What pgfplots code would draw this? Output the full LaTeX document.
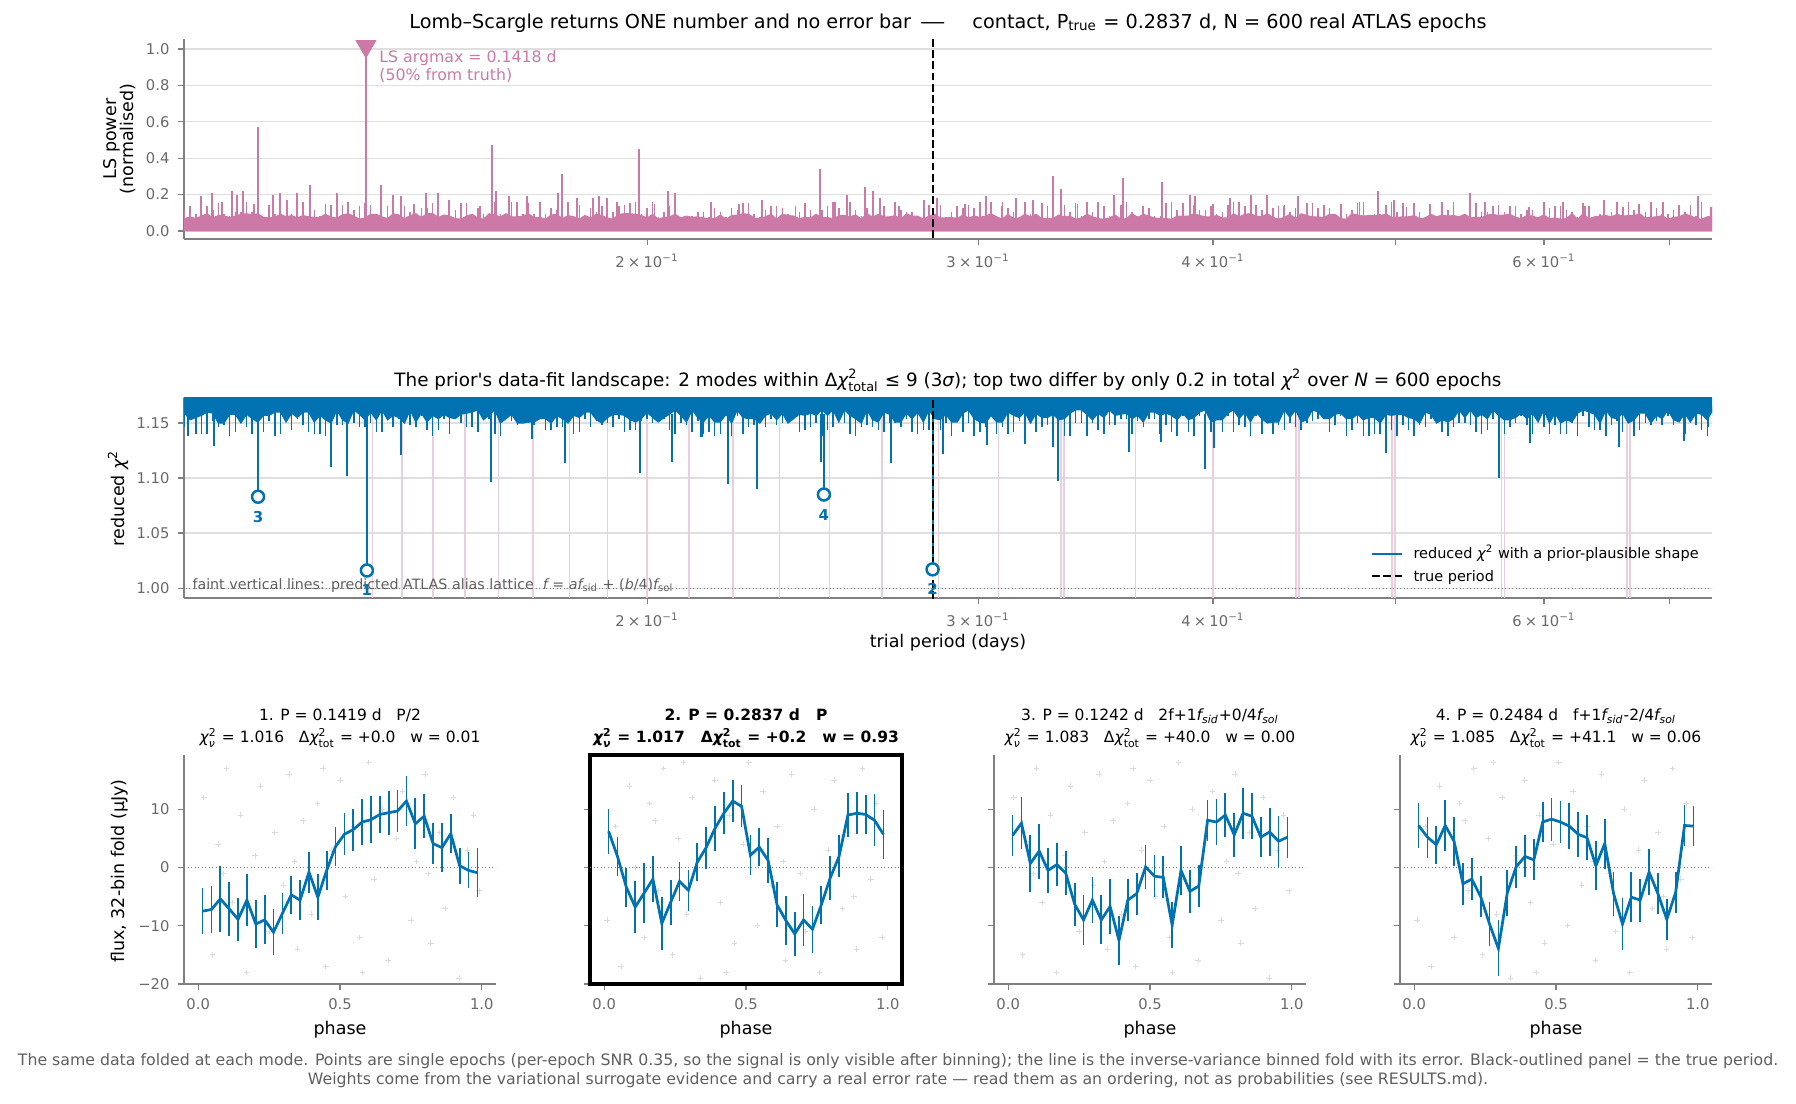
\documentclass[border=0pt]{standalone}
\usepackage{pgfplots}
\usepackage{pgfplotstable}
\pgfplotsset{compat=1.18}
\usepackage{graphicx}
\usepackage{amsmath}
\usepackage{fontspec}
\setmainfont{DejaVu Sans}

\definecolor{lspink}{RGB}{204,121,167}
\definecolor{chiblue}{RGB}{0,114,178}
\definecolor{latpink}{RGB}{236,205,222}
\definecolor{spinegray}{RGB}{128,128,128}
\definecolor{tickgray}{RGB}{105,105,105}
\definecolor{gridgray}{RGB}{223,223,223}
\definecolor{ptgray}{RGB}{218,218,218}
\definecolor{capgray}{RGB}{95,95,95}

\newcommand{\X}{{\itshape χ}}
\newcommand{\ftitle}{\fontsize{7.7pt}{9pt}\selectfont}
\newcommand{\ftitleb}{\fontsize{7.35pt}{9pt}\selectfont}
\newcommand{\flabel}{\fontsize{7pt}{6.9pt}\selectfont}
\newcommand{\fptitle}{\fontsize{6.2pt}{7.4pt}\selectfont}
\newcommand{\ftick}{\fontsize{5.9pt}{7pt}\selectfont}
\newcommand{\fleg}{\fontsize{5.8pt}{7pt}\selectfont}
\newcommand{\fann}{\fontsize{6.3pt}{7.3pt}\selectfont}
\newcommand{\fcap}{\fontsize{6.3pt}{7.5pt}\selectfont}
\newcommand{\fnote}{\fontsize{5.7pt}{6.8pt}\selectfont}
\newcommand{\fnum}{\fontsize{6pt}{7pt}\selectfont\bfseries}
\newcommand{\tenm}[1]{#1\hspace{0.22em}×\hspace{0.22em}10$^{\text{−1}}$}
\tikzset{truedash/.style={black, line width=0.85pt, dash pattern=on 3.1pt off 1.4pt}}

% lp = log10(trial period / d); ls = LS power floor; sp = LS power local peaks;
% chi = reduced chi^2 upper envelope; dp = reduced chi^2 local minima
\pgfplotstableread{
lp ls sp chi dp
-0.947 0 0 1.2 1.2
-0.945 .068 .115 1.159 1.146
-0.942 .078 .105 1.153 1.154
-0.939 .068 .095 1.155 1.140
-0.936 .082 .135 1.157 1.140
-0.933 .095 .135 1.160 1.140
-0.930 .072 .115 1.159 1.152
-0.927 .085 .155 1.150 1.146
-0.924 .082 .095 1.150 1.148
-0.921 .075 .085 1.158 1.138
-0.918 .082 .105 1.158 1.142
-0.915 .092 .105 1.150 1.154
-0.912 .095 .160 1.158 1.146
-0.909 .088 .105 1.154 1.140
-0.906 .095 .135 1.151 1.138
-0.903 .075 .075 1.157 1.142
-0.900 .072 .145 1.157 1.152
-0.897 .075 .095 1.160 1.138
-0.894 .092 .135 1.160 1.140
-0.891 .078 .075 1.151 1.156
-0.888 .085 .095 1.159 1.144
-0.885 .072 .115 1.155 1.154
-0.882 .085 .160 1.160 1.148
-0.879 .078 .085 1.160 1.142
-0.876 .075 .115 1.151 1.140
-0.873 .075 .085 1.157 1.140
-0.870 .092 .095 1.153 1.138
-0.867 .075 .145 1.150 1.148
-0.864 .072 .105 1.162 1.148
-0.861 .088 .145 1.153 1.148
-0.858 .095 .095 1.150 1.156
-0.855 .082 .115 1.162 1.150
-0.852 .065 .125 1.158 1.146
-0.849 .072 .155 1.153 1.146
-0.846 .092 .145 1.160 1.150
-0.843 .092 .075 1.153 1.142
-0.840 .078 .075 1.162 1.142
-0.837 .068 .135 1.153 1.156
-0.834 .095 .135 1.157 1.146
-0.831 .088 .075 1.155 1.154
-0.828 .068 .135 1.150 1.156
-0.825 .085 .105 1.162 1.148
-0.822 .095 .085 1.151 1.146
-0.819 .075 .125 1.159 1.156
-0.816 .095 .125 1.151 1.144
-0.813 .095 .155 1.157 1.138
-0.810 .075 .155 1.154 1.144
-0.807 .088 .085 1.158 1.154
-0.804 .082 .145 1.155 1.140
-0.801 .068 .115 1.154 1.156
-0.798 .065 .155 1.158 1.150
-0.795 .082 .155 1.159 1.146
-0.792 .092 .085 1.160 1.146
-0.789 .072 .125 1.162 1.142
-0.786 .065 .095 1.153 1.154
-0.783 .095 .075 1.157 1.154
-0.780 .088 .160 1.162 1.140
-0.777 .078 .095 1.150 1.138
-0.774 .095 .075 1.154 1.156
-0.771 .078 .160 1.158 1.152
-0.768 .078 .135 1.150 1.148
-0.765 .082 .095 1.150 1.150
-0.762 .095 .155 1.151 1.150
-0.759 .072 .095 1.151 1.148
-0.756 .075 .160 1.154 1.156
-0.753 .065 .095 1.154 1.144
-0.750 .088 .125 1.150 1.144
-0.747 .092 .115 1.157 1.146
-0.744 .068 .075 1.154 1.146
-0.741 .085 .160 1.150 1.150
-0.738 .078 .085 1.157 1.140
-0.735 .065 .145 1.155 1.142
-0.732 .085 .085 1.160 1.154
-0.729 .072 .125 1.160 1.146
-0.726 .092 .105 1.153 1.152
-0.723 .085 .135 1.150 1.148
-0.720 .072 .115 1.155 1.150
-0.717 .065 .105 1.158 1.146
-0.714 .092 .135 1.158 1.154
-0.711 .095 .145 1.157 1.142
-0.708 .095 .155 1.153 1.144
-0.705 .092 .160 1.151 1.144
-0.702 .085 .095 1.154 1.152
-0.699 .072 .125 1.160 1.154
-0.696 .092 .160 1.155 1.150
-0.693 .065 .075 1.151 1.152
-0.690 .075 .105 1.155 1.154
-0.687 .078 .135 1.158 1.144
-0.684 .092 .075 1.162 1.140
-0.681 .072 .075 1.157 1.150
-0.678 .082 .085 1.151 1.148
-0.675 .075 .085 1.162 1.142
-0.672 .078 .105 1.155 1.152
-0.669 .072 .105 1.151 1.140
-0.666 .068 .075 1.157 1.142
-0.663 .068 .125 1.151 1.138
-0.660 .088 .105 1.151 1.140
-0.657 .065 .075 1.158 1.156
-0.654 .085 .125 1.150 1.138
-0.651 .088 .115 1.162 1.156
-0.648 .095 .155 1.155 1.140
-0.645 .092 .155 1.154 1.146
-0.642 .072 .095 1.154 1.148
-0.639 .068 .075 1.150 1.150
-0.636 .078 .115 1.157 1.146
-0.633 .092 .135 1.159 1.154
-0.630 .065 .135 1.153 1.148
-0.627 .092 .125 1.159 1.150
-0.624 .085 .095 1.150 1.150
-0.621 .082 .085 1.154 1.156
-0.618 .068 .105 1.158 1.142
-0.615 .075 .155 1.157 1.144
-0.612 .072 .115 1.159 1.146
-0.609 .092 .085 1.157 1.150
-0.606 .072 .115 1.162 1.138
-0.603 .075 .135 1.157 1.144
-0.600 .065 .160 1.162 1.146
-0.597 .085 .125 1.151 1.154
-0.594 .085 .085 1.162 1.150
-0.591 .078 .160 1.157 1.140
-0.588 .088 .115 1.154 1.138
-0.585 .065 .085 1.150 1.146
-0.582 .095 .125 1.162 1.148
-0.579 .075 .085 1.153 1.146
-0.576 .092 .085 1.151 1.144
-0.573 .078 .135 1.160 1.142
-0.570 .078 .075 1.158 1.150
-0.567 .085 .160 1.151 1.150
-0.564 .065 .115 1.151 1.146
-0.561 .095 .105 1.159 1.154
-0.558 .082 .105 1.154 1.142
-0.555 .082 .075 1.160 1.140
-0.552 .065 .125 1.151 1.144
-0.549 .082 .145 1.162 1.144
-0.546 .092 .095 1.154 1.156
-0.543 .072 .145 1.153 1.144
-0.540 .072 .075 1.158 1.150
-0.537 .075 .105 1.151 1.138
-0.534 .068 .135 1.151 1.152
-0.531 .088 .125 1.159 1.142
-0.528 .072 .145 1.162 1.150
-0.525 .082 .125 1.154 1.138
-0.522 .075 .160 1.151 1.142
-0.519 .082 .125 1.150 1.146
-0.516 .095 .160 1.157 1.156
-0.513 .078 .085 1.151 1.140
-0.510 .065 .160 1.151 1.146
-0.507 .092 .125 1.160 1.140
-0.504 .068 .105 1.157 1.142
-0.501 .072 .075 1.155 1.152
-0.498 .092 .160 1.160 1.144
-0.495 .078 .095 1.150 1.152
-0.492 .092 .085 1.159 1.142
-0.489 .068 .155 1.155 1.146
-0.486 .068 .135 1.155 1.148
-0.483 .068 .085 1.158 1.154
-0.480 .088 .085 1.153 1.152
-0.477 .078 .145 1.154 1.138
-0.474 .082 .105 1.159 1.138
-0.471 .065 .155 1.162 1.150
-0.468 .072 .085 1.162 1.150
-0.465 .092 .160 1.158 1.138
-0.462 .078 .105 1.153 1.150
-0.459 .068 .095 1.159 1.144
-0.456 .065 .135 1.155 1.140
-0.453 .072 .085 1.162 1.148
-0.450 .088 .085 1.157 1.148
-0.447 .065 .145 1.158 1.154
-0.444 .068 .160 1.159 1.154
-0.441 .095 .105 1.154 1.140
-0.438 .075 .085 1.157 1.152
-0.435 .092 .075 1.151 1.146
-0.432 .082 .125 1.160 1.154
-0.429 .072 .085 1.160 1.154
-0.426 .068 .085 1.157 1.140
-0.423 .068 .155 1.159 1.148
-0.420 .065 .125 1.157 1.142
-0.417 .082 .115 1.153 1.138
-0.414 .082 .155 1.159 1.156
-0.411 .082 .075 1.153 1.142
-0.408 .095 .145 1.155 1.138
-0.405 .085 .115 1.160 1.156
-0.402 .078 .115 1.162 1.150
-0.399 .078 .135 1.151 1.142
-0.396 .085 .095 1.153 1.154
-0.393 .072 .105 1.153 1.142
-0.390 .072 .145 1.159 1.156
-0.387 .095 .160 1.162 1.142
-0.384 .078 .160 1.154 1.148
-0.381 .092 .135 1.160 1.146
-0.378 .095 .095 1.151 1.138
-0.375 .082 .145 1.160 1.156
-0.372 .078 .115 1.154 1.140
-0.369 .095 .160 1.150 1.152
-0.366 .075 .125 1.151 1.140
-0.363 .065 .135 1.151 1.148
-0.360 .075 .145 1.162 1.144
-0.357 .092 .105 1.155 1.150
-0.354 .068 .125 1.162 1.146
-0.351 .095 .085 1.151 1.144
-0.348 .085 .155 1.153 1.150
-0.345 .078 .155 1.162 1.152
-0.342 .078 .125 1.160 1.154
-0.339 .072 .145 1.154 1.156
-0.336 .092 .125 1.154 1.142
-0.333 .092 .095 1.158 1.148
-0.330 .068 .145 1.159 1.156
-0.327 .065 .095 1.154 1.138
-0.324 .095 .115 1.154 1.144
-0.321 .088 .155 1.158 1.150
-0.318 .082 .160 1.153 1.138
-0.315 .085 .085 1.155 1.138
-0.312 .085 .095 1.155 1.140
-0.309 .082 .095 1.150 1.140
-0.306 .095 .145 1.158 1.144
-0.303 .075 .160 1.157 1.144
-0.300 .075 .105 1.158 1.138
-0.297 .078 .155 1.158 1.148
-0.294 .078 .085 1.155 1.144
-0.291 .085 .155 1.154 1.138
-0.288 .068 .105 1.150 1.148
-0.285 .072 .075 1.160 1.146
-0.282 .092 .085 1.158 1.154
-0.279 .078 .085 1.150 1.154
-0.276 .088 .160 1.153 1.142
-0.273 .082 .115 1.151 1.138
-0.270 .085 .160 1.154 1.146
-0.267 .078 .085 1.162 1.150
-0.264 .092 .095 1.155 1.150
-0.261 .072 .160 1.162 1.148
-0.258 .075 .155 1.155 1.142
-0.255 .075 .105 1.158 1.140
-0.252 .088 .105 1.154 1.144
-0.249 .092 .135 1.162 1.154
-0.246 .085 .145 1.157 1.146
-0.243 .088 .105 1.153 1.140
-0.240 .092 .105 1.153 1.146
-0.237 .075 .135 1.155 1.150
-0.234 .068 .095 1.159 1.156
-0.231 .085 .115 1.154 1.148
-0.228 .082 .115 1.159 1.140
-0.225 .072 .075 1.151 1.156
-0.222 .088 .135 1.162 1.146
-0.219 .068 .125 1.150 1.140
-0.216 .072 .135 1.159 1.148
-0.213 .065 .135 1.150 1.140
-0.210 .068 .115 1.153 1.140
-0.207 .095 .105 1.151 1.150
-0.204 .065 .075 1.159 1.138
-0.201 .095 .155 1.162 1.156
-0.198 .068 .135 1.160 1.146
-0.195 .078 .075 1.158 1.144
-0.192 .082 .095 1.150 1.144
-0.189 .085 .085 1.162 1.138
-0.186 .078 .105 1.155 1.148
-0.183 .092 .160 1.154 1.152
-0.180 .082 .115 1.159 1.142
-0.177 .085 .160 1.150 1.152
-0.174 .085 .115 1.153 1.138
-0.171 .095 .135 1.159 1.144
-0.168 .072 .105 1.159 1.150
-0.165 .075 .160 1.150 1.148
-0.162 .078 .125 1.157 1.152
-0.159 .085 .095 1.154 1.148
-0.156 .065 .095 1.162 1.156
-0.153 .075 .115 1.153 1.148
-0.150 .078 .145 1.151 1.156
-0.147 .092 .105 1.159 1.140
-0.144 .085 .145 1.151 1.156
-0.141 .068 .085 1.159 1.148
-0.138 .065 .160 1.158 1.144
-0.135 .078 .075 1.153 1.138
-0.132 .082 .145 1.162 1.156
-0.130 0 0 1.2 1.2
}\lsdata

\pgfplotstableread{
ph f e
0.015625 -7.5 3.9
0.046875 -7.2 4.1
0.078125 -5.4 5.6
0.109375 -7.1 4.6
0.140625 -8.9 3.7
0.171875 -5.6 4.5
0.203125 -9.7 4.2
0.234375 -9.0 4.2
0.265625 -11.1 3.9
0.296875 -7.9 3.5
0.328125 -4.7 3.2
0.359375 -5.6 3.5
0.390625 -0.8 3.5
0.421875 -5.1 3.9
0.453125 -0.5 3.4
0.484375 3.6 3.4
0.515625 5.7 3.6
0.546875 6.5 3.6
0.578125 7.8 4.0
0.609375 8.2 4.0
0.640625 9.1 3.2
0.671875 9.4 3.8
0.703125 9.7 3.6
0.734375 11.4 4.3
0.765625 7.5 4.4
0.796875 8.8 3.8
0.828125 4.1 3.5
0.859375 3.4 4.2
0.890625 5.8 3.4
0.921875 0.3 3.1
0.953125 -0.5 3.1
0.984375 -0.9 4.2
}\foldA

\pgfplotstableread{
ph f e
0.015625 6.2 3.9
0.046875 1.9 3.3
0.078125 -3.4 3.3
0.109375 -6.8 4.4
0.140625 -4.4 5.2
0.171875 -2.0 4.0
0.203125 -9.6 4.5
0.234375 -6.0 3.9
0.265625 -2.4 3.4
0.296875 -3.9 3.5
0.328125 0.9 3.3
0.359375 3.4 3.6
0.390625 6.7 3.9
0.421875 9.3 3.6
0.453125 11.4 3.6
0.484375 10.5 3.6
0.515625 2.1 3.4
0.546875 3.5 3.2
0.578125 1.2 3.8
0.609375 -6.4 3.9
0.640625 -9.1 4.2
0.671875 -11.4 3.8
0.703125 -9.0 4.5
0.734375 -10.6 4.0
0.765625 -6.4 3.3
0.796875 -1.8 3.7
0.828125 1.9 3.6
0.859375 9.0 3.8
0.890625 9.3 3.6
0.921875 9.1 3.4
0.953125 8.1 4.5
0.984375 5.7 4.2
}\foldB

\pgfplotstableread{
ph f e
0.015625 5.5 3.5
0.046875 7.6 4.5
0.078125 0.7 4.9
0.109375 2.8 4.7
0.140625 -0.5 3.9
0.171875 0.5 3.7
0.203125 -1.0 3.8
0.234375 -6.3 3.7
0.265625 -9.0 4.3
0.296875 -5.6 3.9
0.328125 -9.0 4.2
0.359375 -6.7 4.7
0.390625 -12.5 4.2
0.421875 -5.6 3.6
0.453125 -4.5 3.6
0.484375 0.1 3.8
0.515625 -1.5 3.6
0.546875 -1.7 3.6
0.578125 -9.9 4.0
0.609375 -0.5 4.2
0.640625 -4.1 3.7
0.671875 -3.2 3.6
0.703125 8.1 3.5
0.734375 7.8 3.9
0.765625 9.0 3.8
0.796875 5.6 3.8
0.828125 9.3 4.4
0.859375 8.8 4.0
0.890625 5.2 3.4
0.921875 6.1 4.1
0.953125 4.5 4.4
0.984375 5.2 3.5
}\foldC

\pgfplotstableread{
ph f e
0.015625 7.2 3.8
0.046875 5.2 3.5
0.078125 3.9 3.3
0.109375 7.2 4.3
0.140625 4.5 4.2
0.171875 -2.8 3.6
0.203125 -2.0 3.6
0.234375 -5.0 3.5
0.265625 -9.7 3.7
0.296875 -13.9 4.8
0.328125 -4.4 4.0
0.359375 0.1 3.6
0.390625 1.9 3.6
0.421875 1.3 3.5
0.453125 7.8 3.5
0.484375 8.3 3.7
0.515625 7.8 3.6
0.546875 7.1 3.9
0.578125 5.7 3.9
0.609375 5.1 3.9
0.640625 0.3 4.2
0.671875 4.1 4.3
0.703125 -4.5 3.8
0.734375 -9.7 4.5
0.765625 -5.1 4.3
0.796875 -5.6 3.7
0.828125 -0.8 4.0
0.859375 -4.5 3.5
0.890625 -8.9 3.5
0.921875 -4.3 3.5
0.953125 7.2 3.6
0.984375 7.1 3.4
}\foldD

\pgfplotsset{
  base/.style={
    scale only axis, clip mode=individual,
    axis x line*=bottom, axis y line*=left,
    axis line style={-, spinegray, line width=0.8pt},
    tick align=outside,
    major tick length=2.3pt, minor tick length=2.3pt,
    every tick/.style={spinegray, line width=0.45pt},
    tick label style={font=\ftick, text=tickgray},
    /pgf/number format/assume math mode=true,
    major grid style={gridgray, line width=0.45pt},
  },
  logp/.style={
    width=611.2pt, height=80pt,
    xmin=-0.9453, xmax=-0.1325,
    xtick={-0.69897,-0.52288,-0.39794,-0.22185},
    xticklabels={\tenm{2},\tenm{3},\tenm{4},\tenm{6}},
    minor xtick={-0.30103,-0.15490},
    ymajorgrids,
  },
  fold/.style={
    base, width=124.8pt, height=91.6pt,
    xmin=-0.05, xmax=1.05, ymin=-20, ymax=19.3,
    xtick={0,0.5,1}, xticklabels={0.0,0.5,1.0},
    ytick={-20,-10,0,10}, yticklabels={},
  },
  foldline/.style={chiblue, line width=1.1pt, error bars/.cd, y dir=both, y explicit,
    error mark=none, error bar style={line width=0.7pt, chiblue}},
  epochs/.style={only marks, mark=+, mark size=1.1pt, draw=ptgray, mark options={line width=0.3pt}},
  zeroline/.style={spinegray, line width=0.45pt, dash pattern=on 0.5pt off 0.9pt},
}

\begin{document}
\begin{tikzpicture}
\useasboundingbox (0pt,0pt) rectangle (718.4pt,-441.6pt);

% ---------------- top: Lomb-Scargle ----------------
\begin{axis}[base, logp, at={(73.6pt,-95.6pt)}, anchor=south west,
  ymin=-0.044, ymax=1.055,
  ytick={0,0.2,0.4,0.6,0.8,1.0}, yticklabels={0.0,0.2,0.4,0.6,0.8,1.0}]
\addplot[draw=lspink, fill=lspink, line width=0.4pt] table[x=lp, y=ls] {\lsdata} \closedcycle;
\addplot[ycomb, draw=lspink, line width=0.6pt] table[x=lp, y=sp] {\lsdata};
\addplot[ycomb, draw=lspink, line width=0.7pt] coordinates {
(-0.9420,.14)(-0.9362,.19)(-0.9304,.21)(-0.9250,.16)(-0.9197,.22)(-0.9171,.20)(-0.9139,.22)(-0.9080,.15)
(-0.9059,.57)(-0.8979,.20)(-0.8942,.21)(-0.8905,.17)(-0.8852,.21)(-0.8783,.25)(-0.8700,.15)(-0.8639,.21)
(-0.8580,.16)(-0.8520,.14)(-0.8405,.25)(-0.8341,.20)(-0.8299,.19)(-0.8230,.15)(-0.8166,.21)(-0.8102,.21)
(-0.8043,.17)(-0.7950,.15)(-0.7880,.14)(-0.7814,.47)(-0.7793,.22)(-0.7724,.19)(-0.7680,.16)(-0.7628,.19)
(-0.7560,.15)(-0.7463,.21)(-0.7442,.315)(-0.7362,.18)(-0.7277,.18)(-0.7245,.19)(-0.7203,.18)(-0.7150,.16)
(-0.7080,.14)(-0.7033,.45)(-0.6950,.15)(-0.6878,.22)(-0.6841,.21)
(-0.6650,.16)(-0.6500,.15)(-0.6380,.17)(-0.6200,.14)(-0.6070,.34)(-0.5990,.16)(-0.5926,.20)(-0.5830,.24)
(-0.5788,.22)(-0.5751,.18)(-0.5650,.14)(-0.5517,.17)(-0.5447,.18)(-0.5300,.15)(-0.5187,.19)(-0.5100,.14)
(-0.5027,.18)(-0.4937,.17)(-0.4830,.30)(-0.4788,.23)(-0.4700,.15)(-0.4590,.16)(-0.4506,.20)(-0.4458,.29)
(-0.4350,.14)(-0.4251,.27)(-0.4200,.16)(-0.4102,.20)(-0.4075,.19)(-0.3980,.15)(-0.3889,.18)(-0.3777,.20)
(-0.3692,.20)(-0.3600,.14)(-0.3527,.19)(-0.3300,.15)(-0.3200,.16)(-0.3102,.22)(-0.3017,.17)(-0.2950,.13)
(-0.2825,.15)(-0.2700,.14)(-0.2612,.21)(-0.2533,.16)(-0.2400,.14)(-0.2300,.13)(-0.2219,.16)(-0.2118,.16)
(-0.2000,.14)(-0.1900,.17)(-0.1800,.13)(-0.1714,.15)(-0.1586,.16)(-0.1500,.14)(-0.1400,.19)(-0.1330,.13)};
\addplot[ycomb, draw=lspink, line width=1.1pt] coordinates {(-0.8485,1.0)};
\addplot[truedash] coordinates {(-0.5471,-0.1)(-0.5471,1.2)};
\addplot[only marks, mark=triangle*, mark size=4.5pt, mark options={rotate=180, fill=lspink, draw=lspink}] coordinates {(-0.8485,1.015)};
\node[anchor=north west, align=left, inner sep=0pt, text=lspink, font=\fann] at (axis cs:-0.8416,0.997) {LS argmax = 0.1418 d\\(50\% from truth)};
\end{axis}

% ---------------- middle: chi^2 landscape ----------------
\begin{axis}[base, logp, at={(73.6pt,-239.2pt)}, anchor=south west,
  ymin=0.991, ymax=1.1727,
  ytick={1.00,1.05,1.10,1.15}, yticklabels={1.00,1.05,1.10,1.15}]
\addplot[ycomb, draw=latpink, line width=0.55pt] coordinates {
(-0.84510,1.3)(-0.82930,1.3)(-0.81291,1.3)(-0.79588,1.3)(-0.77815,1.3)(-0.75967,1.3)(-0.74036,1.3)(-0.72016,1.3)
(-0.69897,1.3)(-0.67669,1.3)(-0.65321,1.3)(-0.62839,1.3)(-0.60206,1.3)(-0.57403,1.3)(-0.54407,1.3)(-0.51188,1.3)
(-0.47712,1.3)(-0.47872,1.3)(-0.43933,1.3)(-0.39794,1.3)(-0.35218,1.3)(-0.35378,1.3)(-0.30103,1.3)(-0.30263,1.3)
(-0.24304,1.3)(-0.24464,1.3)(-0.17609,1.3)(-0.17769,1.3)};
\addplot[zeroline] coordinates {(-0.95,1.0)(-0.13,1.0)};
\addplot[draw=chiblue, fill=chiblue, line width=0.5pt] table[x=lp, y=chi] {\lsdata};
\addplot[draw=none, mark=none, error bars/.cd, y dir=plus, y explicit, error mark=none,
  error bar style={draw=chiblue, line width=0.6pt}] table[x=lp, y=dp, y error expr=1.165-\thisrow{dp}] {\lsdata};
\addplot[chiblue, line width=0.85pt, unbounded coords=jump] coordinates {
(-0.9430,1.158)(-0.9430,1.138)(-0.9430,nan)
(-0.9293,1.158)(-0.9293,1.129)(-0.9293,nan)
(-0.9059,1.158)(-0.9059,1.083)(-0.9059,nan)
(-0.8671,1.158)(-0.8671,1.110)(-0.8671,nan)
(-0.8586,1.158)(-0.8586,1.1015)(-0.8586,nan)
(-0.8480,1.158)(-0.8480,1.016)(-0.8480,nan)
(-0.8299,1.158)(-0.8299,1.121)(-0.8299,nan)
(-0.7820,1.158)(-0.7820,1.096)(-0.7820,nan)
(-0.7600,1.158)(-0.7600,1.135)(-0.7600,nan)
(-0.7426,1.158)(-0.7426,1.114)(-0.7426,nan)
(-0.7027,1.158)(-0.7027,1.105)(-0.7027,nan)
(-0.6857,1.158)(-0.6857,1.115)(-0.6857,nan)
(-0.6700,1.158)(-0.6700,1.137)(-0.6700,nan)
(-0.6559,1.158)(-0.6559,1.095)(-0.6559,nan)
(-0.6405,1.158)(-0.6405,1.090)(-0.6405,nan)
(-0.6064,1.158)(-0.6064,1.115)(-0.6064,nan)
(-0.6049,1.158)(-0.6049,1.085)(-0.6049,nan)
(-0.5692,1.158)(-0.5692,1.114)(-0.5692,nan)
(-0.5471,1.158)(-0.5471,1.017)(-0.5471,nan)
(-0.5416,1.158)(-0.5416,1.122)(-0.5416,nan)
(-0.5182,1.158)(-0.5182,1.130)(-0.5182,nan)
(-0.4979,1.158)(-0.4979,1.131)(-0.4979,nan)
(-0.4830,1.158)(-0.4830,1.128)(-0.4830,nan)
(-0.4804,1.158)(-0.4804,1.097)(-0.4804,nan)
(-0.4426,1.158)(-0.4426,1.124)(-0.4426,nan)
(-0.4256,1.158)(-0.4256,1.133)(-0.4256,nan)
(-0.4022,1.158)(-0.4022,1.108)(-0.4022,nan)
(-0.3974,1.158)(-0.3974,1.127)(-0.3974,nan)
(-0.3059,1.158)(-0.3059,1.123)(-0.3059,nan)
(-0.2458,1.158)(-0.2458,1.100)(-0.2458,nan)
(-0.2293,1.158)(-0.2293,1.132)(-0.2293,nan)
(-0.1820,1.158)(-0.1820,1.128)(-0.1820,nan)
(-0.1474,1.158)(-0.1474,1.134)(-0.1474,nan)
(-0.1346,1.158)(-0.1346,1.146)};
\addplot[truedash] coordinates {(-0.5471,0.98)(-0.5471,1.2)};
\addplot[only marks, mark=*, mark size=2.4pt, mark options={fill=white, draw=chiblue, line width=1pt}] coordinates {
(-0.8480,1.016)(-0.5471,1.017)(-0.9059,1.083)(-0.6049,1.085)};
\node[text=chiblue, font=\fnum, yshift=-8pt] at (axis cs:-0.8480,1.016) {1};
\node[text=chiblue, font=\fnum, yshift=-8pt] at (axis cs:-0.5471,1.017) {2};
\node[text=chiblue, font=\fnum, yshift=-8pt] at (axis cs:-0.9059,1.083) {3};
\node[text=chiblue, font=\fnum, yshift=-8pt] at (axis cs:-0.6049,1.085) {4};
\end{axis}

% ---------------- bottom: folds ----------------
\begin{axis}[fold, at={(73.6pt,-393.6pt)}, anchor=south west, yticklabels={−20,−10,0,10}]
\addplot[epochs] coordinates {(0.02,12)(0.05,-15)(0.07,4)(0.10,17)(0.12,-6)(0.15,9)(0.17,-18)(0.20,2)(0.22,14)(0.25,-11)(0.27,6)(0.30,-3)(0.32,16)(0.35,-14)(0.37,8)(0.40,-8)(0.42,11)(0.45,-17)(0.47,3)(0.50,15)(0.52,-5)(0.55,7)(0.57,-12)(0.60,18)(0.62,-2)(0.65,10)(0.67,-16)(0.70,5)(0.72,13)(0.75,-9)(0.77,1)(0.80,16)(0.82,-13)(0.85,6)(0.87,-7)(0.90,12)(0.92,-19)(0.95,3)(0.97,9)(0.99,-4)(0.09,-1)(0.34,1)(0.58,-18)(0.81,-1)(0.44,17)};
\addplot[zeroline] coordinates {(-0.05,0)(1.05,0)};
\addplot[foldline] table[x=ph, y=f, y error=e] {\foldA};
\end{axis}

\begin{axis}[fold, at={(236pt,-393.6pt)}, anchor=south west,
  axis x line=box, axis y line=box, tick pos=left,
  axis line style={-, black, line width=1.4pt}]
\addplot[epochs] coordinates {(0.01,-9)(0.04,7)(0.06,-17)(0.09,14)(0.11,0)(0.14,-12)(0.16,11)(0.19,-4)(0.21,17)(0.24,-15)(0.26,5)(0.29,-8)(0.31,12)(0.34,-19)(0.36,2)(0.39,15)(0.41,-6)(0.44,9)(0.46,-13)(0.49,4)(0.51,18)(0.54,-10)(0.56,13)(0.59,-3)(0.61,7)(0.64,-16)(0.66,16)(0.69,-1)(0.71,-11)(0.74,10)(0.76,-18)(0.79,3)(0.81,15)(0.84,-7)(0.86,6)(0.89,-14)(0.91,17)(0.94,-2)(0.96,11)(0.98,-12)(0.18,8)(0.43,-18)(0.63,1)(0.88,-5)(0.28,18)};
\addplot[zeroline] coordinates {(-0.05,0)(1.05,0)};
\addplot[foldline] table[x=ph, y=f, y error=e] {\foldB};
\end{axis}

\begin{axis}[fold, at={(397.6pt,-393.6pt)}, anchor=south west]
\addplot[epochs] coordinates {(0.02,12)(0.05,-15)(0.07,4)(0.10,17)(0.12,-6)(0.15,9)(0.17,-18)(0.20,2)(0.22,14)(0.25,-11)(0.27,6)(0.30,-3)(0.32,16)(0.35,-14)(0.37,8)(0.40,-8)(0.42,11)(0.45,-17)(0.47,3)(0.50,15)(0.52,-5)(0.55,7)(0.57,-12)(0.60,18)(0.62,-2)(0.65,10)(0.67,-16)(0.70,5)(0.72,13)(0.75,-9)(0.77,1)(0.80,16)(0.82,-13)(0.85,6)(0.87,-7)(0.90,12)(0.92,-19)(0.95,3)(0.97,9)(0.99,-4)(0.09,-1)(0.34,1)(0.58,-18)(0.81,-1)(0.44,17)};
\addplot[zeroline] coordinates {(-0.05,0)(1.05,0)};
\addplot[foldline] table[x=ph, y=f, y error=e] {\foldC};
\end{axis}

\begin{axis}[fold, at={(560pt,-393.6pt)}, anchor=south west]
\addplot[epochs] coordinates {(0.01,-9)(0.04,7)(0.06,-17)(0.09,14)(0.11,0)(0.14,-12)(0.16,11)(0.19,-4)(0.21,17)(0.24,-15)(0.26,5)(0.29,-8)(0.31,12)(0.34,-19)(0.36,2)(0.39,15)(0.41,-6)(0.44,9)(0.46,-13)(0.49,4)(0.51,18)(0.54,-10)(0.56,13)(0.59,-3)(0.61,7)(0.64,-16)(0.66,16)(0.69,-1)(0.71,-11)(0.74,10)(0.76,-18)(0.79,3)(0.81,15)(0.84,-7)(0.86,6)(0.89,-14)(0.91,17)(0.94,-2)(0.96,11)(0.98,-12)(0.18,8)(0.43,-18)(0.63,1)(0.88,-5)(0.28,18)};
\addplot[zeroline] coordinates {(-0.05,0)(1.05,0)};
\addplot[foldline] table[x=ph, y=f, y error=e] {\foldD};
\end{axis}

% ---------------- texts ----------------
\node[font=\ftitle, anchor=base] at (379.2pt,-11.3pt) {Lomb–Scargle returns ONE number and no error bar\hspace{3.6pt}\scalebox{1.32}[1]{—}\hspace{10.8pt}contact, P\textsubscript{true} = 0.2837 d, N = 600 real ATLAS epochs};
\node[font=\flabel, rotate=90, align=center] at (47.8pt,-55.6pt) {LS power\\(normalised)};

\node[font=\ftitleb, anchor=base] at (379.2pt,-154.4pt) {The prior\textquotesingle s data-fit landscape: 2 modes within Δ\X$^{\text{2}}_{\text{total}}$ ≤ 9 (3{\itshape σ}); top two differ by only 0.2 in total \X$^{\text{2}}$ over {\itshape N} = 600 epochs};
\node[font=\flabel, rotate=90] at (47.2pt,-199.2pt) {reduced \X$^{\text{2}}$};
\node[font=\flabel, anchor=base] at (379.2pt,-258.8pt) {trial period (days)};
\node[font=\fnote, text=capgray, anchor=base west, inner sep=0pt] at (76.8pt,-235.6pt) {faint vertical lines: predicted ATLAS alias lattice\ \ {\itshape f} = {\itshape af}$_{\text{sid}}$ + ({\itshape b}/4){\itshape f}$_{\text{sol}}$};
\draw[chiblue, line width=0.85pt] (548.8pt,-221.6pt) -- (560.8pt,-221.6pt);
\node[font=\fleg, anchor=base west, inner sep=0pt] at (565.2pt,-223.5pt) {reduced \X$^{\text{2}}$ with a prior-plausible shape};
\draw[truedash] (548.8pt,-230.4pt) -- (560.8pt,-230.4pt);
\node[font=\fleg, anchor=base west, inner sep=0pt] at (565.2pt,-232.7pt) {true period};

\node[font=\flabel, rotate=90] at (48pt,-348.4pt) {flux, 32-bin fold (μJy)};
\foreach \cx in {136,298.4,460,622.4} {\node[font=\flabel, anchor=base] at (\cx pt,-413.6pt) {phase};}

\node[font=\fptitle, anchor=base, inner sep=0pt] at (136pt,-288.3pt) {1. P = 0.1419 d\ \ \ P/2};
\node[font=\fptitle, anchor=base, inner sep=0pt] at (136pt,-297.1pt) {\X$^{\text{2}}_{\text{\itshape ν}}$ = 1.016\ \ \ Δ\X$^{\text{2}}_{\text{tot}}$ = +0.0\ \ \ w = 0.01};
\node[font=\fptitle\bfseries, anchor=base, inner sep=0pt] at (298.4pt,-288.3pt) {2. P = 0.2837 d\ \ \ P};
\node[font=\fptitle\bfseries, anchor=base, inner sep=0pt] at (298.4pt,-297.1pt) {\X$^{\text{2}}_{\text{\itshape ν}}$ = 1.017\ \ \ Δ\X$^{\text{2}}_{\text{tot}}$ = +0.2\ \ \ w = 0.93};
\node[font=\fptitle, anchor=base, inner sep=0pt] at (460pt,-288.3pt) {3. P = 0.1242 d\ \ \ 2f+1{\itshape f}$_{\text{\itshape sid}}$+0/4{\itshape f}$_{\text{\itshape sol}}$};
\node[font=\fptitle, anchor=base, inner sep=0pt] at (460pt,-297.1pt) {\X$^{\text{2}}_{\text{\itshape ν}}$ = 1.083\ \ \ Δ\X$^{\text{2}}_{\text{tot}}$ = +40.0\ \ \ w = 0.00};
\node[font=\fptitle, anchor=base, inner sep=0pt] at (622.4pt,-288.3pt) {4. P = 0.2484 d\ \ \ f+1{\itshape f}$_{\text{\itshape sid}}$-2/4{\itshape f}$_{\text{\itshape sol}}$};
\node[font=\fptitle, anchor=base, inner sep=0pt] at (622.4pt,-297.1pt) {\X$^{\text{2}}_{\text{\itshape ν}}$ = 1.085\ \ \ Δ\X$^{\text{2}}_{\text{tot}}$ = +41.1\ \ \ w = 0.06};

\node[font=\fcap, text=capgray, anchor=base] at (359.2pt,-426.3pt) {The same data folded at each mode. Points are single epochs (per-epoch SNR 0.35, so the signal is only visible after binning); the line is the inverse-variance binned fold with its error. Black-outlined panel = the true period.};
\node[font=\fcap, text=capgray, anchor=base] at (359.2pt,-433.7pt) {Weights come from the variational surrogate evidence and carry a real error rate — read them as an ordering, not as probabilities (see RESULTS.md).};
\end{tikzpicture}
\end{document}
